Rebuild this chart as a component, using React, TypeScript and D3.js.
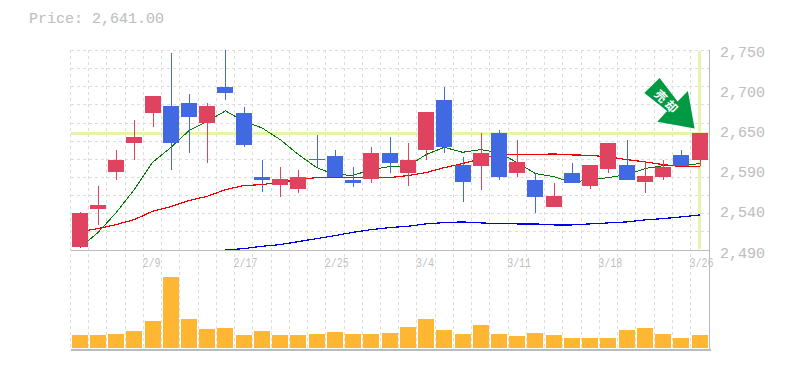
import React from "react";
import * as d3 from "d3";

const priceTitle = "Price: 2,641.00";
const dateLabels: [number, string][] = [[4, "2/9"], [9, "2/17"], [14, "2/25"], [19, "3/4"], [24, "3/11"], [29, "3/18"], [34, "3/26"]];
const priceTicks = [2490, 2540, 2590, 2650, 2700, 2750];
const lastPrice = 2641;

const opens = [2494, 2543, 2590.5, 2629, 2667, 2677, 2681, 2654, 2701, 2668, 2585, 2574.5, 2569, 2608, 2612, 2580, 2582, 2615, 2590, 2619, 2685, 2600.5, 2599, 2641, 2589, 2581, 2545, 2589, 2573, 2595, 2600.5, 2578, 2585, 2613.5, 2606];
const highs = [2539, 2573, 2620, 2658, 2690, 2746, 2692, 2680, 2750, 2675, 2607, 2598, 2594, 2639.5, 2620, 2597, 2624, 2636, 2628, 2669, 2701, 2610, 2642, 2645, 2632, 2589, 2577, 2603, 2600.5, 2629, 2633, 2604, 2607, 2620, 2641];
const lows = [2494, 2522.5, 2580, 2606, 2650, 2594, 2616, 2602, 2685, 2624, 2565, 2558, 2564, 2598, 2584, 2572, 2577, 2590, 2573, 2606, 2615, 2552, 2568, 2581, 2585, 2537, 2545, 2576, 2569, 2589, 2581, 2564, 2580, 2599, 2599];
const closes = [2537, 2548, 2607, 2636, 2690, 2629, 2662, 2677, 2693, 2626.5, 2580, 2582, 2584, 2606, 2584, 2576, 2615, 2602, 2607, 2669, 2624, 2578, 2615, 2585, 2604, 2558, 2560, 2576, 2600.5, 2629, 2581, 2586, 2597, 2599, 2641];

const maShort = [2492.6, 2512, 2538, 2568, 2603.5, 2622.6, 2644.7, 2656.8, 2670.3, 2656.8, 2648.2, 2633, 2613.5, 2596.6, 2587.5, 2586.6, 2594, 2597.9, 2598.3, 2613.5, 2623, 2616.5, 2620, 2616, 2603, 2588.8, 2584.9, 2577.5, 2581, 2583.6, 2587.5, 2595.3, 2599.2, 2599.2, 2601.8];
const maMid = [2513.4, 2517.3, 2522.5, 2529, 2539.8, 2545.9, 2553.7, 2559.3, 2568, 2573.2, 2574.5, 2577.5, 2581, 2583.6, 2583.6, 2583.6, 2583.6, 2583.6, 2586.2, 2590.1, 2596.6, 2601.8, 2607.9, 2613.5, 2613.1, 2613.5, 2614.4, 2613.1, 2612.6, 2610.5, 2607, 2604, 2600.5, 2597.9, 2597.5];
const maLong: (number | null)[] = [null, null, null, null, null, null, null, null, 2488.7, 2491.3, 2494.3, 2496.5, 2500.4, 2504.3, 2508.2, 2512.5, 2516, 2518.6, 2520.3, 2523.4, 2525.1, 2526, 2524.7, 2523.8, 2523.4, 2523.4, 2522.1, 2522.1, 2523.4, 2524.7, 2526, 2528.6, 2530.3, 2532.5, 2535.1];
const volumes = [13, 13, 14, 17, 27, 71, 29, 19, 20, 13, 17, 13, 13, 14, 16, 14, 14, 15, 21, 29, 18, 14, 23, 14, 12, 15, 13, 10, 10, 10, 18, 20, 14, 10, 13];

const W = 785, H = 370;
const LEFT = 70.5, RIGHT = 709.5, TOP = 50, BASE = 250, VOL_BASE = 348, VOL_TOP = 277, BOTTOM = 350;
const UP = "#e0435f", DOWN = "#4169e1", LIME = "#e6f5ab", AMBER = "#ffb733", GRID = "#dddddd", AXIS = "#bbbbbb", TEXT = "#bfbfbf";
const MONO = "'Liberation Mono', monospace";

export default function App() {
  const idx = d3.range(opens.length);
  const x = d3.scaleBand<number>().domain(idx).range([LEFT, LEFT + 18.235 * idx.length]);
  const cx = (i: number) => (x(i) as number) + x.bandwidth() / 2;
  const y = d3.scaleLinear().domain([2490, 2750]).range([BASE - 0.4, TOP - 0.4]);
  const yGrid = d3.scaleLinear().domain([2490, 2750]).range([BASE, TOP + 0.5]);
  const yv = d3.scaleLinear().domain([0, d3.max(volumes) as number]).range([VOL_BASE, VOL_TOP]);
  const line = d3.line<number | null>().defined((d) => d !== null).x((_, i) => cx(i)).y((d) => Math.min(y(d as number), BASE));
  const hGrid = d3.range(0, 12).map((i) => yGrid(2490 + (i * 260) / 11));
  const vGrid = idx.map((i) => x(i) as number);
  const tipX = cx(34) - 5, tipY = y(lastPrice) - 5;
  const arrow = [[0, 0], [-6.7, -37.5], [-17, -27], [-35, -50.5], [-50.3, -35.5], [-27.5, -17.5], [-37.3, -6.7]].map(([a, b]) => `${tipX + a},${tipY + b}`).join(" ");

  return (
    <svg width={W} height={H} viewBox={`0 0 ${W} ${H}`} style={{ position: "absolute", left: 0, top: 0, display: "block", background: "#fff" }}>
      <text x={29} y={23} fontFamily={MONO} fontSize={15} fill={TEXT} stroke={TEXT} strokeWidth={0.12}>{priceTitle}</text>
      <g stroke={GRID} strokeDasharray="3 3" shapeRendering="crispEdges">
        {hGrid.map((g, i) => <line key={i} x1={LEFT} x2={RIGHT} y1={g} y2={g} />)}
        {vGrid.map((g, i) => <line key={i} x1={g} x2={g} y1={TOP} y2={BOTTOM} />)}
      </g>
      <g fill={LIME} shapeRendering="crispEdges">
        <rect x={LEFT} y={132} width={RIGHT - LEFT} height={3} />
        <rect x={cx(34) - 1.5} y={TOP + 1} width={3} height={BASE - TOP - 2} />
      </g>
      <g fill="none" shapeRendering="crispEdges">
        <path d={line(maLong) as string} stroke="#0000e6" strokeWidth={1.2} />
        <path d={line(maMid) as string} stroke="#f00000" strokeWidth={1.2} />
        <path d={line(maShort) as string} stroke="#007a00" strokeWidth={1} />
      </g>
      <g shapeRendering="crispEdges">
        {idx.map((i) => {
          const up = closes[i] >= opens[i];
          const c = up ? UP : DOWN;
          const t = y(Math.max(opens[i], closes[i])), b = y(Math.min(opens[i], closes[i]));
          return (
            <g key={i} fill={c}>
              <rect x={Math.round(cx(i))} y={y(highs[i])} width={1} height={y(lows[i]) - y(highs[i])} />
              <rect x={Math.round(cx(i)) - 8} y={t} width={16} height={Math.max(b - t, 1)} />
            </g>
          );
        })}
        {idx.map((i) => (
          <rect key={i} x={Math.round(cx(i)) - 8} y={yv(volumes[i])} width={16} height={VOL_BASE - yv(volumes[i])} fill={AMBER} />
        ))}
      </g>
      <g stroke={AXIS} shapeRendering="crispEdges">
        <line x1={LEFT} x2={RIGHT} y1={BASE + 0.5} y2={BASE + 0.5} strokeWidth={1} />
        <line x1={LEFT} x2={RIGHT + 1} y1={BOTTOM - 0.5} y2={BOTTOM - 0.5} strokeWidth={2} />
        <line x1={RIGHT} x2={RIGHT} y1={TOP} y2={BOTTOM} strokeWidth={1} />
      </g>
      <g fontFamily={MONO} fontSize={15} fill={TEXT} stroke={TEXT} strokeWidth={0.12}>
        {priceTicks.map((t, i) => (
          <text key={t} x={720} y={BASE + 7.5 - i * 40.2}>{d3.format(",")(t)}</text>
        ))}
      </g>
      <g fontFamily={MONO} fontSize={13} fill={TEXT}>
        {dateLabels.map(([i, l]) => (
          <text key={l} x={(x(i) as number) - 1} y={267} textLength={l.length * 6} lengthAdjust="spacingAndGlyphs">{l}</text>
        ))}
      </g>
      <polygon points={arrow} fill="#009944" />
      <g fontFamily="'Noto Sans CJK JP', sans-serif" fontWeight={700} fontSize={12} fill="#fff" textAnchor="middle" dominantBaseline="central">
        <text transform={`translate(${tipX - 33},${tipY - 33}) rotate(45)`}>売</text>
        <text transform={`translate(${tipX - 22.5},${tipY - 22.5}) rotate(45)`}>却</text>
      </g>
    </svg>
  );
}
